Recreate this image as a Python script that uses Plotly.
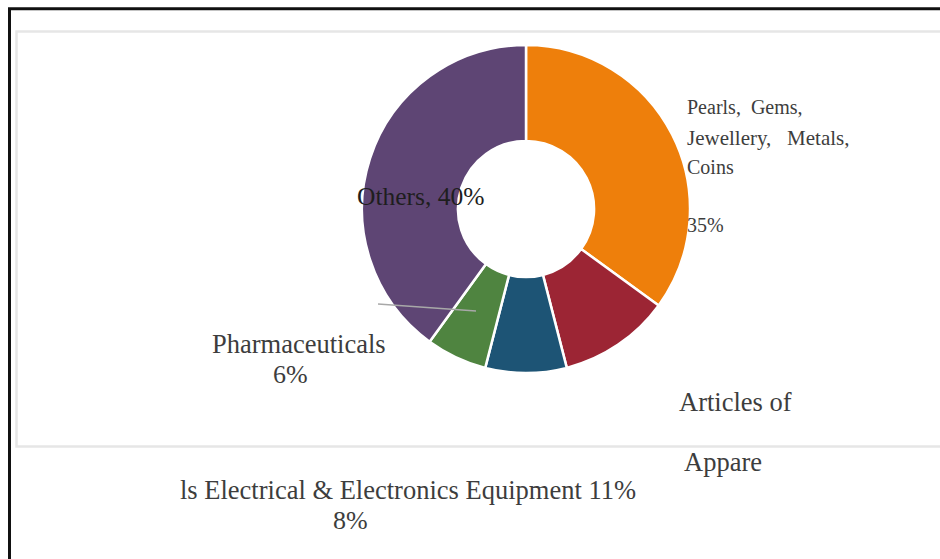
import plotly.graph_objects as go

# Export composition by product group (share of total, %)
categories = [
    "Pearls, Gems, Jewellery, Metals, Coins",
    "Articles of Apparels",
    "Electrical & Electronics Equipment",
    "Pharmaceuticals",
    "Others",
]
shares = [35, 11, 8, 6, 40]
colors = ["#EE7F0B", "#9C2534", "#1D5475", "#4F8440", "#5E4574"]

W, H = 940, 559


def px(x):
    return x / W


def py(y):
    return 1 - y / H


# donut geometry in pixels
cx, cy, r = 526, 209, 164

fig = go.Figure(
    go.Pie(
        labels=categories,
        values=shares,
        marker=dict(colors=colors, line=dict(color="white", width=2.5)),
        hole=0.415,
        sort=False,
        direction="clockwise",
        rotation=0,
        textinfo="none",
        hoverinfo="label+percent",
        showlegend=False,
        domain=dict(x=[px(cx - r), px(cx + r)], y=[py(cy + r), py(cy - r)]),
    )
)

serif = "Liberation Serif, Times New Roman, serif"
txt = "#3d3d3d"
nb = "\u00a0"

# label lines: (text, x, y, xanchor, size, color)
labels = [
    (f"Pearls,{nb} Gems,", 685, 107, "left", 20, txt),
    (f"Jewellery,{nb * 2} Metals,", 685, 138, "left", 21, txt),
    ("Coins", 685, 167, "left", 20, txt),
    (f"{shares[0]}%", 685, 225, "left", 20, txt),
    (f"{categories[4]}, {shares[4]}%", 420, 196, "center", 25.5, "#1e1e1e"),
    (categories[3], 299, 344, "center", 26.5, txt),
    (f"{shares[3]}%", 290, 374, "center", 26, txt),
    ("Articles of", 677, 402, "left", 26.5, txt),
    ("Appare", 682, 462, "left", 26.5, txt),
    (f"ls {categories[2]} {shares[1]}%", 408, 490, "center", 26.5, txt),
    (f"{shares[2]}%", 350, 520, "center", 26, txt),
]

annotations = [
    dict(
        text=t, x=px(x), y=py(y), xref="paper", yref="paper",
        xanchor=xa, yanchor="middle", showarrow=False,
        font=dict(family=serif, size=s, color=c),
    )
    for t, x, y, xa, s, c in labels
]

shapes = [
    # outer frame
    dict(type="rect", xref="paper", yref="paper",
         x0=px(9.5), y0=py(570), x1=px(960), y1=py(8.7),
         line=dict(color="#111111", width=3)),
    # chart area frame
    dict(type="rect", xref="paper", yref="paper",
         x0=px(16.5), y0=py(446.5), x1=px(960), y1=py(31.5),
         line=dict(color="#e6e6e6", width=2.5)),
    # leader line for the Pharmaceuticals label
    dict(type="line", xref="paper", yref="paper",
         x0=px(378), y0=py(304), x1=px(476), y1=py(311),
         line=dict(color="#a8a8a8", width=1.5)),
]

fig.update_layout(
    width=W,
    height=H,
    margin=dict(l=0, r=0, t=0, b=0),
    paper_bgcolor="white",
    plot_bgcolor="white",
    annotations=annotations,
    shapes=shapes,
)

fig.write_html("out.html")
